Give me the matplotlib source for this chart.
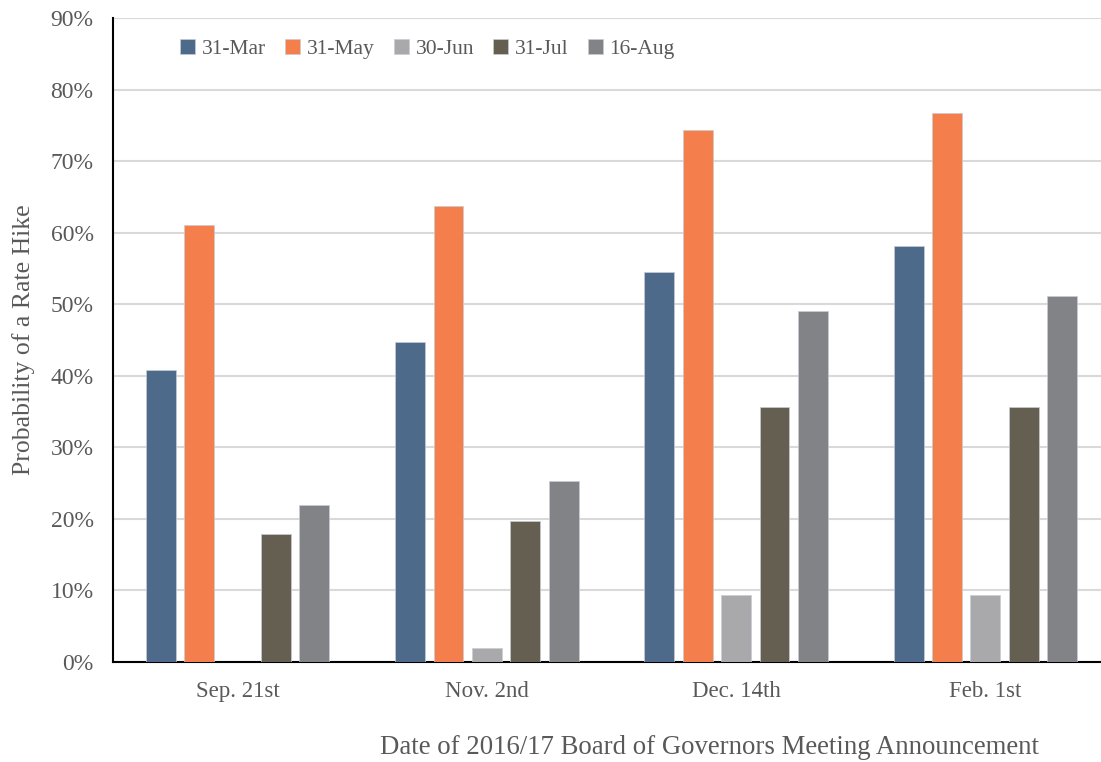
import matplotlib.pyplot as plt
import numpy as np

# Data
meetings = ['Sep. 21st', 'Nov. 2nd', 'Dec. 14th', 'Feb. 1st']
series_names = ['31-Mar', '31-May', '30-Jun', '31-Jul', '16-Aug']
mar31 = [40.8, 44.7, 54.5, 58.2]
may31 = [61.1, 63.7, 74.4, 76.7]
jun30 = [0.0, 2.0, 9.4, 9.4]
jul31 = [17.9, 19.7, 35.6, 35.6]
aug16 = [21.9, 25.3, 49.0, 51.1]
colors = ['#4E6A8A', '#F47F4C', '#A9A9AC', '#655F51', '#828387']

plt.rcParams['font.family'] = ['Liberation Serif', 'DejaVu Serif']
plt.rcParams['ytick.major.pad'] = 14
plt.rcParams['xtick.major.pad'] = 14
plt.rcParams['ytick.major.size'] = 0
plt.rcParams['xtick.major.size'] = 0
text_color = '#595959'

fig = plt.figure(figsize=(11.01, 7.62), dpi=100)
# axes runs a bit past the right edge, as in the cropped original
ax = fig.add_axes([113 / 1101, 100 / 762, 997 / 1101, 644 / 762])

x = np.arange(len(meetings))
step = 0.154
width = 0.12
all_series = [mar31, may31, jun30, jul31, aug16]
for i, (name, vals) in enumerate(zip(series_names, all_series)):
    ax.bar(x + (i - 2) * step, vals, width, color=colors[i], label=name,
           edgecolor='#c8ccd4', linewidth=0.5, zorder=3)

ax.set_xlim(-0.5, 3.5)
ax.set_ylim(0, 90)
ax.set_yticks(np.arange(0, 91, 10))
ax.set_yticklabels([f'{v}%' for v in range(0, 91, 10)])
ax.set_xticks(x)
ax.set_xticklabels(meetings)

ax.grid(axis='y', color='#d9d9d9', linewidth=1.5, zorder=0)
for s in ['top', 'right']:
    ax.spines[s].set_visible(False)
ax.spines['left'].set_linewidth(1.5)
ax.spines['bottom'].set_linewidth(1.5)
ax.tick_params(axis='y', labelsize=17, colors=text_color)
ax.tick_params(axis='x', labelsize=16.5, colors=text_color)

ax.set_ylabel('Probability of a Rate Hike', fontsize=18.5, color=text_color)
ax.yaxis.set_label_coords(-(113 - 35) / 997, 0.5)
fig.text(710 / 1101, 1 - 748 / 762, 'Date of 2016/17 Board of Governors Meeting Announcement',
         fontsize=19.3, color=text_color, ha='center', va='center')

leg = ax.legend(ncol=5, loc='upper left', bbox_to_anchor=(0.048, 0.997), frameon=False,
                fontsize=15.5, handlelength=0.7, handleheight=0.7, handletextpad=0.3,
                columnspacing=0.9, labelcolor=text_color)

plt.savefig('out.png', dpi=100)
